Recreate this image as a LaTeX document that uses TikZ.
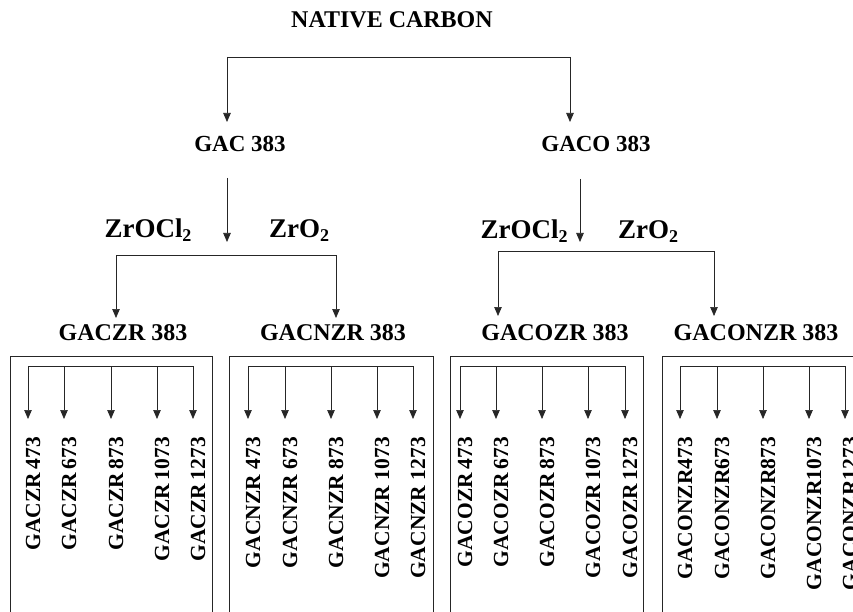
\documentclass[tikz,border=0pt]{standalone}
\usepackage{fontspec}
\setmainfont{Liberation Serif}
\usetikzlibrary{arrows.meta}
\newcommand\subtwo{\raisebox{-4.5pt}{\fontsize{18}{20}\selectfont 2}}
\newcommand\subbox[9]{%
  \draw[conn] (#2,612) -- (#2,356) -- (#3,356) -- (#3,612);
  \coordinate (#1b1) at (#5,366);
  \coordinate (#1b5) at (#9,366);
  \draw[conn] (#1b1) -- (#1b5);
  \foreach \xx/\vv [count=\ii] in {#5/473,#6/673,#7/873,#8/1073,#9/1273} {
    \coordinate (#1s\ii) at (\xx,366);
    \coordinate (#1t\ii) at (\xx,419);
    \draw[arr] (#1s\ii) -- (#1t\ii);
    \node[rlbl] (#1l\ii) at (\xx+5,437) {#4\vv};
  }%
}
\begin{document}
\begin{tikzpicture}[x=1pt,y=-1pt,
  conn/.style={line width=0.7pt, draw=black!85},
  arr/.style={conn, -{Triangle[length=9pt,width=7.5pt]}},
  lblA/.style={font=\fontsize{24}{28}\selectfont\bfseries, inner sep=0pt},
  lblB/.style={font=\fontsize{23}{27}\selectfont\bfseries, inner sep=0pt},
  chem/.style={font=\fontsize{27}{30}\selectfont\bfseries, inner sep=0pt, anchor=base},
  rlbl/.style={font=\fontsize{21.5}{24}\selectfont\bfseries, inner sep=0pt, rotate=90, anchor=east}]
\useasboundingbox (0,0) rectangle (853,612);
\clip (0,0) rectangle (853,612);
\fill[white] (0,0) rectangle (853,612);

% top
\node[lblA] (nc) at (392,20) {NATIVE CARBON};
\coordinate (tl) at (227,57);
\coordinate (tr) at (570,57);
\coordinate (tla) at (227,122);
\coordinate (tra) at (570,122);
\draw[conn] (tl) -- (tr);
\draw[arr] (tl) -- (tla);
\draw[arr] (tr) -- (tra);

\node[lblB] (gac) at (240,144) {GAC 383};
\node[lblB] (gaco) at (596,144) {GACO 383};

% left branch
\coordinate (ga1) at (227,178);
\coordinate (ga2) at (227,242);
\draw[arr] (ga1) -- (ga2);
\node[chem] (zl1) at (148,237) {ZrOCl\subtwo};
\node[chem] (zl2) at (299,237) {ZrO\subtwo};
\coordinate (lbl) at (116,255);
\coordinate (lbr) at (336,255);
\coordinate (lbla) at (116,318);
\coordinate (lbra) at (336,318);
\draw[conn] (lbl) -- (lbr);
\draw[arr] (lbl) -- (lbla);
\draw[arr] (lbr) -- (lbra);

% right branch
\coordinate (go1) at (580,179);
\coordinate (go2) at (580,242);
\draw[arr] (go1) -- (go2);
\node[chem] (zr1) at (524,238) {ZrOCl\subtwo};
\node[chem] (zr2) at (648,238) {ZrO\subtwo};
\coordinate (rbl) at (498,251);
\coordinate (rbr) at (714,251);
\coordinate (rbla) at (498,316);
\coordinate (rbra) at (714,316);
\draw[conn] (rbl) -- (rbr);
\draw[arr] (rbl) -- (rbla);
\draw[arr] (rbr) -- (rbra);

% level 2
\node[lblA] (gaczr) at (123,333) {GACZR 383};
\node[lblA] (gacnzr) at (333,333) {GACNZR 383};
\node[lblA] (gacozr) at (555,333) {GACOZR 383};
\node[lblA] (gaconzr) at (756,333) {GACONZR 383};

% boxes
\subbox{a}{10}{212}{GACZR\,}{28}{64}{111}{157}{193}
\subbox{b}{229}{433}{GACNZR }{248}{285}{331}{377}{413}
\subbox{c}{450}{643}{GACOZR\,}{460}{496}{542}{588}{625}
\subbox{d}{662}{900}{GACONZR}{680}{717}{763}{809}{845}
\end{tikzpicture}
\end{document}
